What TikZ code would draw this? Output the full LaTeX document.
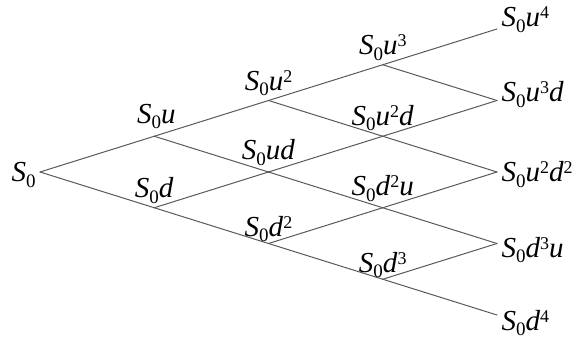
\documentclass[tikz,border=0pt]{standalone}
\usepackage{fontspec}
\setmainfont{Liberation Serif}
\newcommand{\Sz}{\textit{S}\raisebox{-5.5pt}{\fontsize{19}{19}\selectfont 0}}
\newcommand{\pw}[1]{\raisebox{8pt}{\fontsize{18}{18}\selectfont #1}}
\begin{document}
\begin{tikzpicture}[x=1pt,y=1pt,line width=1pt,
    branch/.style={color=black!65,line cap=round},
    lbl/.style={anchor=base,inner sep=0pt,font=\fontsize{29}{33}\selectfont},
    leaf/.style={anchor=base west,inner sep=0pt,font=\fontsize{29}{33}\selectfont}]
		\useasboundingbox (0,0) rectangle (577,340);
		% lattice points: n-step-ups
		\foreach \i in {0,...,4}{
			\foreach \j in {0,...,\i}{
				\coordinate (n-\i-\j) at ({40+114.25*\i},{168+35.75*(2*\j-\i)});
			}
		}
		\foreach \i [evaluate=\i as \k using int(\i+1)] in {0,...,3}{
			\foreach \j [evaluate=\j as \m using int(\j+1)] in {0,...,\i}{
				\draw[branch] (n-\i-\j)--(n-\k-\j);
				\draw[branch] (n-\i-\j)--(n-\k-\m);
			}
		}
		\node[leaf] (s0) at (11,158) {\Sz};
		\node[lbl] (s1u) at ([xshift=2,yshift=13]n-1-1) {\Sz\textit{u}};
		\node[lbl] (s1d) at ([yshift=10]n-1-0) {\Sz\textit{d}};
		\node[lbl] (s2uu) at ([yshift=10]n-2-2) {\Sz\textit{u}\pw{2}};
		\node[lbl] (s2ud) at ([yshift=12]n-2-1) {\Sz\textit{ud}};
		\node[lbl] (s2dd) at ([yshift=7]n-2-0) {\Sz\textit{d}\pw{2}};
		\node[lbl] (s3uuu) at ([yshift=10]n-3-3) {\Sz\textit{u}\pw{3}};
		\node[lbl] (s3uud) at ([yshift=11]n-3-2) {\Sz\textit{u}\pw{2}\textit{d}};
		\node[lbl] (s3ddu) at ([yshift=12]n-3-1) {\Sz\textit{d}\pw{2}\textit{u}};
		\node[lbl] (s3ddd) at ([yshift=7]n-3-0) {\Sz\textit{d}\pw{3}};
		\node[leaf] (s4u4) at (501,313) {\Sz\textit{u}\pw{4}};
		\node[leaf] (s4u3d) at (501,238) {\Sz\textit{u}\pw{3}\textit{d}};
		\node[leaf] (s4u2d2) at (501,158) {\Sz\textit{u}\pw{2}\textit{d}\pw{2}};
		\node[leaf] (s4d3u) at (501,83) {\Sz\textit{d}\pw{3}\textit{u}};
		\node[leaf] (s4d4) at (501,10) {\Sz\textit{d}\pw{4}};
		\end{tikzpicture}
\end{document}
